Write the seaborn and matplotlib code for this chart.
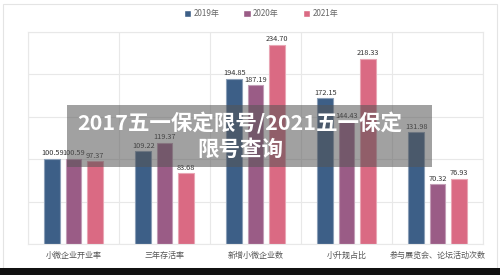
import matplotlib
matplotlib.use("Agg")
import matplotlib.pyplot as plt
import matplotlib.colors as mcolors
from matplotlib.patches import Rectangle
import numpy as np
import pandas as pd
import seaborn as sns

# Chart data
categories = ['小微企业开业率', '三年存活率', '新增小微企业数', '小升规占比', '参与展览会、论坛活动次数']
years = ['2019年', '2020年', '2021年']
values_2019 = [100.59, 109.22, 194.85, 172.15, 131.98]
values_2020 = [100.59, 119.37, 187.19, 144.43, 70.32]
values_2021 = [97.37, 83.68, 234.70, 218.33, 76.93]
y_ticks = [0, 50, 100, 150, 200, 250]
overlay_title = '2017五一保定限号/2021五一保定\n限号查询'

palette = ['#3d5f87', '#9a5c86', '#da6a83']

df = pd.DataFrame({
    'category': categories * 3,
    'year': [years[0]] * 5 + [years[1]] * 5 + [years[2]] * 5,
    'value': values_2019 + values_2020 + values_2021,
})

sns.set_theme(style='white')
plt.rcParams['font.family'] = ['Noto Sans CJK SC', 'DejaVu Sans']

fig = plt.figure(figsize=(5, 2.75), dpi=100)
ax = fig.add_axes([0.056, 0.113, 0.91, 0.771])

sns.barplot(data=df, x='category', y='value', hue='year', hue_order=years,
            order=categories, palette=palette, width=0.7, gap=0.25,
            saturation=1, ax=ax, legend=True)

# lighter outline on each bar
for cont, col in zip(ax.containers, palette):
    light = np.array(mcolors.to_rgb(col)) * 0.6 + 0.4
    for bar in cont:
        bar.set_edgecolor(light)
        bar.set_linewidth(0.8)
    ax.bar_label(cont, fmt='%.2f', fontsize=5.3, color='#333333', padding=1)

ax.set_ylim(0, 250)
ax.set_xlim(-0.5, 4.5)
ax.set_yticks(y_ticks)
ax.set_yticklabels([])
ax.set_xticks(np.arange(-0.5, 5, 1), minor=True)
ax.grid(False)
ax.yaxis.grid(True, color='#e8e8e8', linewidth=0.8)
ax.xaxis.grid(True, which='minor', color='#e8e8e8', linewidth=0.8)
ax.set_axisbelow(True)
for s in ax.spines.values():
    s.set_color('#e8e8e8')
    s.set_linewidth(0.8)
ax.tick_params(axis='both', which='both', length=0)
ax.tick_params(axis='x', labelsize=5.8, labelcolor='#555555', pad=5)
ax.set_xlabel('')
ax.set_ylabel('')

leg = ax.legend(loc='upper center', bbox_to_anchor=(0.522, 0.99), bbox_transform=fig.transFigure,
                ncol=3, frameon=False, fontsize=5.8, handlelength=0.9, handleheight=0.9,
                columnspacing=3.0, handletextpad=0.3, borderaxespad=0.4)
for t in leg.get_texts():
    t.set_color('#666666')

# card border and bottom band
fig.patches.append(Rectangle((0.005, 0.025), 0.988, 0.962, transform=fig.transFigure,
                             fill=False, edgecolor='#e4e4e4', linewidth=0.8))
fig.patches.append(Rectangle((0, 0), 1, 0.025, transform=fig.transFigure,
                             facecolor='#111111', edgecolor='none'))

# overlay banner
fig.patches.append(Rectangle((0.134, 0.393), 0.73, 0.225, transform=fig.transFigure,
                             facecolor='#555555', alpha=0.55, edgecolor='none', zorder=5))
fig.text(0.48, 0.505, overlay_title, ha='center', va='center', fontsize=15.5,
         fontweight='bold', color='white', linespacing=1.3, zorder=6)

fig.savefig('out.png', dpi=100)
